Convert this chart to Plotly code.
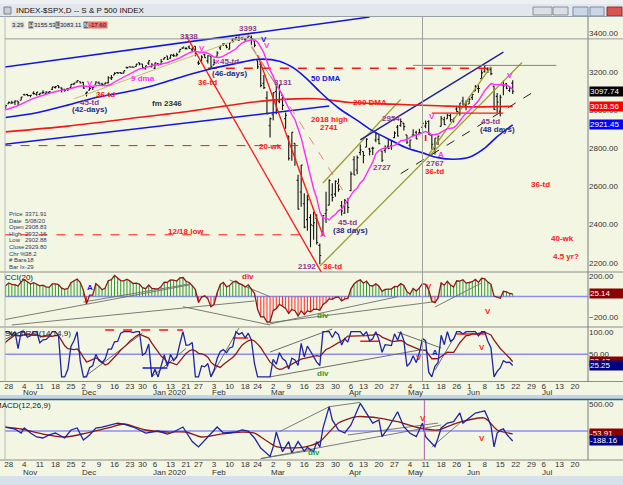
import numpy as np
import pandas as pd
import plotly.graph_objects as go

W, H = 623, 485
BG = "#F3F6E2"
FONT = "Liberation Sans, Arial, sans-serif"
RED = "#FF1414"
PURPLE = "#8E3A8E"
NAVY = "#2A2A8A"
MAGENTA = "#FF2BFF"
BLUE = "#1414E6"
GREEN = "#2E9A2E"
OLIVE = "#9C9A2E"
GRAY = "#6E6E6E"

# ---------------- trading calendar ----------------
HOLIDAYS = ["2019-11-28", "2019-12-25", "2020-01-01", "2020-01-20", "2020-02-17",
            "2020-04-10", "2020-05-25", "2020-07-03"]
_days = pd.bdate_range("2019-09-03", "2020-07-31")
_days = _days[~_days.isin(pd.to_datetime(HOLIDAYS))]
DAY_KEYS = [d.strftime("%Y-%m-%d") for d in _days]
POS = {k: i for i, k in enumerate(DAY_KEYS)}
ORIGIN = POS["2019-10-28"]


def X(d):
    return POS[d] - ORIGIN


# ---------------- S&P 500 daily OHLC (2019-09-03 .. 2020-06-19) ----------------
open_ = [
    2909.01, 2924.67, 2960.60, 2980.33, 2988.43, 2971.01, 2981.41, 3009.08, 3012.21, 2996.41, 2995.67, 3001.50, 3010.36, 3008.42, 2983.50, 3002.43, 2968.35, 2985.73, 2985.47, 2967.07,
    2983.69, 2924.78, 2885.38, 2918.56, 2944.23, 2920.40, 2911.10, 2918.55, 2963.07, 2965.81, 2973.61, 2989.68, 3000.77, 2996.84, 2996.48, 3010.73, 2994.01, 3014.78, 3003.32,
    3032.12, 3035.39, 3039.74, 3046.90,
    3050.72, 3078.96, 3080.80, 3075.10, 3087.02, 3081.25, 3080.33, 3089.28, 3084.18, 3090.75, 3107.92, 3117.91, 3127.45, 3114.66, 3108.49, 3111.41, 3117.44, 3134.85, 3145.49, 3147.18,
    3143.85, 3087.41, 3103.50, 3119.21, 3134.62, 3141.86, 3135.36, 3135.75, 3141.23, 3166.65, 3183.63, 3195.40, 3195.21, 3192.32, 3223.33, 3226.05, 3225.45, 3227.20, 3247.23, 3240.09, 3215.18,
    3244.67, 3226.36, 3217.55, 3241.86, 3238.59, 3266.03, 3281.81, 3271.13, 3285.35, 3282.27, 3302.97, 3323.66, 3321.03, 3330.02, 3315.77, 3333.10, 3247.16, 3255.35, 3289.46, 3256.45, 3282.33,
    3235.66, 3280.61, 3324.91, 3344.92, 3335.54, 3318.28, 3365.87, 3370.50, 3365.90, 3378.08, 3369.04, 3380.39, 3380.45, 3360.50, 3257.61, 3238.94, 3139.90, 3062.54, 2916.90,
    2974.28, 3096.46, 3045.75, 3075.70, 2954.20, 2863.89, 2813.48, 2825.60, 2630.86, 2569.99, 2508.59, 2425.66, 2436.50, 2393.48, 2431.94, 2290.71, 2344.44, 2457.77, 2501.29, 2555.87, 2558.98, 2614.69,
    2498.08, 2458.54, 2514.92, 2578.28, 2738.65, 2685.00, 2776.99, 2782.46, 2805.10, 2795.64, 2799.34, 2842.43, 2845.62, 2784.81, 2787.89, 2810.42, 2812.64, 2854.65, 2909.96, 2918.46, 2930.91,
    2869.09, 2815.01, 2868.88, 2883.14, 2878.26, 2908.83, 2915.46, 2939.50, 2865.86, 2794.54, 2829.95, 2913.86, 2948.59, 2953.63, 2969.95, 2948.05, 3004.08, 3015.65, 3046.61, 3025.17,
    3031.15, 3064.78, 3098.90, 3111.56, 3163.84, 3199.92, 3213.32, 3213.42, 3123.53, 3071.04, 2993.76, 3131.00, 3136.13, 3101.64, 3140.29,
]
high = [
    2914.39, 2938.84, 2985.86, 2985.03, 2989.43, 2979.39, 3000.93, 3020.74, 3017.33, 3002.19, 3006.21, 3007.83, 3021.99, 3016.37, 2999.15, 3007.98, 2989.82, 2987.28, 2987.31, 2983.85,
    2992.53, 2924.78, 2911.13, 2953.74, 2959.75, 2925.47, 2929.32, 2948.46, 2993.28, 2972.84, 3003.28, 2997.54, 3008.29, 3000.00, 3007.33, 3014.57, 3004.78, 3016.07, 3027.39,
    3044.08, 3047.87, 3050.10, 3046.90,
    3066.95, 3085.20, 3083.95, 3078.34, 3097.77, 3093.09, 3088.33, 3102.61, 3098.06, 3098.20, 3120.46, 3124.17, 3127.64, 3118.97, 3110.11, 3112.87, 3133.83, 3142.69, 3154.26, 3150.30,
    3144.31, 3094.97, 3119.38, 3119.45, 3150.60, 3148.87, 3142.12, 3143.98, 3176.28, 3182.68, 3197.71, 3198.22, 3198.48, 3205.48, 3225.65, 3227.78, 3226.43, 3240.08, 3247.93, 3240.92, 3231.72,
    3258.14, 3246.15, 3246.84, 3244.91, 3267.07, 3275.58, 3282.99, 3288.13, 3294.25, 3298.66, 3317.11, 3329.88, 3329.79, 3337.77, 3326.88, 3333.18, 3258.85, 3285.78, 3293.47, 3285.91, 3282.33,
    3268.44, 3306.92, 3337.58, 3347.96, 3341.42, 3352.26, 3375.63, 3381.47, 3385.09, 3380.69, 3375.01, 3393.52, 3389.15, 3360.76, 3259.81, 3246.99, 3182.51, 3097.07, 2959.72,
    3090.96, 3136.72, 3130.97, 3083.04, 2985.93, 2863.89, 2882.59, 2825.60, 2660.95, 2711.33, 2562.98, 2553.93, 2453.57, 2466.97, 2453.01, 2300.73, 2449.71, 2571.42, 2637.01, 2615.91, 2631.80, 2641.39,
    2522.75, 2533.22, 2538.18, 2676.85, 2756.89, 2760.75, 2818.57, 2782.46, 2851.85, 2801.88, 2806.51, 2879.22, 2868.98, 2785.54, 2815.10, 2844.90, 2842.71, 2887.72, 2921.15, 2954.86, 2930.91,
    2869.09, 2844.24, 2898.23, 2891.11, 2901.92, 2932.16, 2944.25, 2945.82, 2874.14, 2852.80, 2865.01, 2968.09, 2964.21, 2980.29, 2978.50, 2956.76, 3021.72, 3036.25, 3068.67, 3049.17,
    3062.18, 3081.07, 3130.94, 3128.91, 3211.72, 3233.13, 3222.71, 3223.27, 3123.53, 3088.42, 3079.76, 3153.45, 3141.16, 3120.00, 3155.53,
]
low = [
    2891.85, 2921.86, 2960.60, 2972.51, 2969.39, 2957.01, 2975.31, 3000.92, 3002.90, 2990.67, 2993.73, 2978.57, 3003.16, 2984.68, 2982.23, 2957.73, 2952.86, 2963.71, 2945.53, 2967.07,
    2938.70, 2874.93, 2855.94, 2918.56, 2935.68, 2892.66, 2907.41, 2917.12, 2963.07, 2962.94, 2973.61, 2985.20, 2991.79, 2976.31, 2995.35, 2995.04, 2991.21, 2999.10, 3001.94,
    3032.12, 3034.81, 3025.96, 3023.19,
    3050.72, 3074.87, 3072.15, 3065.89, 3080.23, 3073.58, 3075.82, 3084.73, 3078.80, 3083.26, 3104.60, 3112.06, 3113.47, 3091.41, 3094.55, 3099.26, 3117.44, 3131.00, 3143.41, 3139.34,
    3110.78, 3070.33, 3102.53, 3103.76, 3134.62, 3135.46, 3126.09, 3133.21, 3138.47, 3156.51, 3183.63, 3191.03, 3191.14, 3192.32, 3216.03, 3222.30, 3220.51, 3227.20, 3234.37, 3216.57, 3212.03,
    3235.53, 3222.34, 3214.64, 3232.43, 3236.67, 3263.67, 3260.86, 3268.43, 3277.19, 3280.69, 3302.82, 3318.86, 3316.61, 3320.04, 3301.87, 3281.53, 3234.50, 3253.22, 3271.89, 3242.80, 3214.68,
    3235.66, 3280.61, 3313.75, 3334.39, 3322.12, 3317.77, 3352.72, 3369.72, 3360.52, 3366.15, 3355.61, 3378.83, 3341.02, 3328.45, 3214.65, 3118.77, 3108.99, 2977.39, 2855.84,
    2945.19, 2976.63, 3034.38, 2999.83, 2901.54, 2734.43, 2734.00, 2707.22, 2478.86, 2492.37, 2380.94, 2367.04, 2280.52, 2319.78, 2295.56, 2191.86, 2344.44, 2407.53, 2500.72, 2520.02, 2545.28, 2571.15,
    2447.49, 2455.79, 2459.96, 2574.57, 2657.67, 2663.30, 2762.36, 2721.17, 2805.10, 2761.54, 2764.32, 2830.88, 2820.43, 2727.10, 2775.95, 2794.26, 2791.76, 2852.89, 2860.71, 2912.16, 2892.47,
    2821.61, 2797.85, 2863.55, 2847.65, 2876.48, 2902.88, 2903.44, 2869.59, 2793.15, 2766.64, 2816.78, 2913.86, 2922.35, 2953.63, 2938.57, 2933.59, 2988.17, 2969.75, 3023.40, 2998.61,
    3031.15, 3051.64, 3098.90, 3090.41, 3163.84, 3196.00, 3193.11, 3181.49, 2999.49, 2984.47, 2965.66, 3076.06, 3108.03, 3093.51, 3083.11,
]
close = [
    2906.27, 2937.78, 2976.00, 2978.71, 2978.43, 2979.39, 3000.93, 3009.57, 3007.39, 2997.96, 3005.70, 3006.73, 3006.79, 2992.07, 2991.78, 2966.60, 2984.87, 2977.62, 2961.79, 2976.74,
    2940.25, 2887.61, 2910.63, 2952.01, 2938.79, 2893.06, 2919.40, 2938.13, 2970.27, 2966.15, 2995.68, 2989.69, 2997.95, 2986.20, 3006.72, 2995.99, 3004.52, 3010.29, 3022.55,
    3039.42, 3036.89, 3046.77, 3037.56,
    3066.91, 3078.27, 3074.62, 3076.78, 3085.18, 3093.08, 3087.01, 3091.84, 3094.04, 3096.63, 3120.46, 3122.03, 3120.18, 3108.46, 3103.54, 3110.29, 3133.64, 3140.52, 3153.63, 3140.98,
    3113.87, 3093.20, 3112.76, 3117.43, 3145.91, 3135.96, 3132.52, 3141.63, 3168.57, 3168.80, 3191.45, 3192.52, 3191.14, 3205.37, 3221.22, 3224.01, 3223.38, 3239.91, 3240.02, 3221.29, 3230.78,
    3257.85, 3234.85, 3246.28, 3237.18, 3253.05, 3274.70, 3265.35, 3288.13, 3283.15, 3289.29, 3316.81, 3329.62, 3320.79, 3321.75, 3325.54, 3295.47, 3243.63, 3276.24, 3273.40, 3283.66, 3225.52,
    3248.92, 3297.59, 3334.69, 3345.78, 3327.71, 3352.09, 3357.75, 3379.45, 3373.94, 3380.16, 3370.29, 3386.15, 3373.23, 3337.75, 3225.89, 3128.21, 3116.39, 2978.76, 2954.22,
    3090.23, 3003.37, 3130.12, 3023.94, 2972.37, 2746.56, 2882.23, 2741.38, 2480.64, 2711.02, 2386.13, 2529.19, 2398.10, 2409.39, 2304.92, 2237.40, 2447.33, 2475.56, 2630.07, 2541.47, 2626.65, 2584.59,
    2470.50, 2526.90, 2488.65, 2663.68, 2659.41, 2749.98, 2789.82, 2761.63, 2846.06, 2783.36, 2799.55, 2874.56, 2823.16, 2736.56, 2799.31, 2797.80, 2836.74, 2878.48, 2863.39, 2939.51, 2912.43,
    2830.71, 2842.74, 2868.44, 2848.42, 2881.19, 2929.80, 2930.32, 2870.12, 2820.00, 2852.50, 2863.70, 2953.91, 2922.94, 2971.61, 2948.51, 2955.45, 2991.77, 3036.13, 3029.73, 3044.31,
    3055.73, 3080.82, 3122.87, 3112.35, 3193.93, 3232.39, 3207.18, 3190.14, 3002.10, 3041.31, 3066.59, 3124.74, 3113.49, 3115.34, 3097.74,
]

# moving averages
dma50_dates = ["2019-10-25", "2019-11-08", "2019-11-22", "2019-12-06", "2019-12-20", "2020-01-03", "2020-01-17",
               "2020-01-31", "2020-02-14", "2020-02-24", "2020-03-04", "2020-03-11", "2020-03-17", "2020-03-23",
               "2020-03-31", "2020-04-08", "2020-04-16", "2020-04-24", "2020-05-01", "2020-05-08", "2020-05-15",
               "2020-05-22", "2020-06-01", "2020-06-08", "2020-06-12", "2020-06-19"]
dma50_vals = [2960, 2985, 3025, 3065, 3095, 3125, 3175, 3215, 3250, 3265, 3255, 3215, 3160, 3095,
              3010, 2945, 2890, 2840, 2800, 2775, 2750, 2742, 2752, 2800, 2860, 2921.45]
dma200_dates = ["2019-10-25", "2019-11-22", "2019-12-23", "2020-01-21", "2020-02-20", "2020-03-05", "2020-03-20",
                "2020-04-03", "2020-04-24", "2020-05-15", "2020-06-01", "2020-06-19"]
dma200_vals = [2885, 2915, 2955, 2990, 3040, 3055, 3058, 3040, 3030, 3022, 3016, 3018.56]

# MACD panel
macd_dates = ["2019-10-24", "2019-10-25", "2019-10-30", "2019-11-01", "2019-11-04", "2019-11-06", "2019-11-08",
              "2019-11-12", "2019-11-14", "2019-11-18", "2019-11-21", "2019-11-25", "2019-11-27", "2019-12-02",
              "2019-12-04", "2019-12-06", "2019-12-10", "2019-12-17", "2019-12-19", "2019-12-24", "2019-12-27",
              "2019-12-31", "2020-01-07", "2020-01-10", "2020-01-14", "2020-01-17", "2020-01-21", "2020-01-23",
              "2020-01-27", "2020-01-30", "2020-02-04", "2020-02-06", "2020-02-12", "2020-02-14", "2020-02-19",
              "2020-02-21", "2020-02-25", "2020-02-28", "2020-03-02", "2020-03-03", "2020-03-05", "2020-03-09",
              "2020-03-10", "2020-03-12", "2020-03-16", "2020-03-17", "2020-03-19", "2020-03-20", "2020-03-23",
              "2020-03-24", "2020-03-26", "2020-03-27", "2020-03-31", "2020-04-02", "2020-04-06", "2020-04-09",
              "2020-04-14", "2020-04-16", "2020-04-20", "2020-04-21", "2020-04-23", "2020-04-28", "2020-04-30",
              "2020-05-04", "2020-05-06", "2020-05-08", "2020-05-11", "2020-05-14", "2020-05-15", "2020-05-18",
              "2020-05-20", "2020-05-22", "2020-05-27", "2020-05-28", "2020-06-01", "2020-06-03", "2020-06-05",
              "2020-06-08", "2020-06-09", "2020-06-10", "2020-06-11", "2020-06-12", "2020-06-15", "2020-06-16",
              "2020-06-17", "2020-06-18", "2020-06-19"]
macd_vals = [150, 75, 38, -38, 57, -38, -113, -132, -75, -38, -132, 19, 57, -170, -75, 57, 75, 150, 132, 75, 19,
             -38, 0, -57, -19, 75, -19, -200, -300, -113, 75, -38, -19, 19, 0, -132, -320, -480, -300, -20, -390,
             -200, -410, -200, -380, -310, -390, -200, -300, 50, 460, 210, 19, -38, 113, 520, 340, 150, 210, -107,
             57, 364, 81, -44, -107, 150, -107, -296, -132, 57, 150, 175, 340, 150, 245, 340, 364, 380, 250, 100,
             -300, -40, 20, 40, -60, -120, -188.16]
sig_dates = ["2019-10-24", "2019-11-01", "2019-11-12", "2019-11-21", "2019-12-03", "2019-12-13", "2019-12-19",
             "2019-12-31", "2020-01-10", "2020-01-21", "2020-01-28", "2020-02-05", "2020-02-14", "2020-02-21",
             "2020-02-26", "2020-03-03", "2020-03-10", "2020-03-17", "2020-03-23", "2020-03-31", "2020-04-08",
             "2020-04-20", "2020-04-28", "2020-05-07", "2020-05-15", "2020-05-26", "2020-06-08", "2020-06-12",
             "2020-06-19"]
sig_vals = [75, 38, -57, -113, -38, 75, 132, 19, -19, -19, -113, -60, -20, -40, -150, -296, -320, -290, -200,
            150, 270, 245, 175, 57, 19, 150, 245, 19, -53.91]

# axis ticks
week_ticks = ["2019-10-28", "2019-11-04", "2019-11-11", "2019-11-18", "2019-11-25", "2019-12-02", "2019-12-09",
              "2019-12-16", "2019-12-23", "2019-12-30", "2020-01-06", "2020-01-13", "2020-01-21", "2020-01-27",
              "2020-02-03", "2020-02-10", "2020-02-18", "2020-02-24", "2020-03-02", "2020-03-09", "2020-03-16",
              "2020-03-23", "2020-03-30", "2020-04-06", "2020-04-13", "2020-04-20", "2020-04-27", "2020-05-04",
              "2020-05-11", "2020-05-18", "2020-05-26", "2020-06-01", "2020-06-08", "2020-06-15", "2020-06-22",
              "2020-06-29", "2020-07-06", "2020-07-13", "2020-07-20"]
week_labels = ["28", "4", "11", "18", "25", "2", "9", "16", "23", "30", "6", "13", "21", "27", "3", "10", "18",
               "24", "2", "9", "16", "23", "30", "6", "13", "20", "27", "4", "11", "18", "26", "1", "8", "15",
               "22", "29", "6", "13", "20"]
month_dates = ["2019-11-04", "2019-12-02", "2020-01-06", "2020-02-03", "2020-03-02", "2020-04-06", "2020-05-04",
               "2020-06-01", "2020-07-06"]
month_names = ["Nov", "Dec", "Jan 2020", "Feb", "Mar", "Apr", "May", "Jun", "Jul"]

# analyst drawings on the price panel: (date1, price1, date2, price2, colour, width, dash)
price_lines = [
    ("2019-10-24", 3223, "2020-04-15", 3486, BLUE, 1.5, "solid"),
    ("2019-10-24", 2819, "2020-03-26", 3020, BLUE, 1.5, "solid"),
    ("2019-11-26", 3058, "2020-02-20", 3394, "#C8BC78", 1.0, "solid"),
    ("2020-01-21", 3390, "2020-03-24", 2136, RED, 1.3, "solid"),
    ("2020-02-24", 3287, "2020-03-24", 2342, RED, 1.3, "solid"),
    ("2020-02-20", 3337, "2020-04-03", 2537, "#F08080", 1.0, "dash"),
    ("2020-02-20", 3329, "2020-03-05", 3078, "#808080", 0.8, "solid"),
    ("2020-03-23", 2182, "2020-06-24", 3248, OLIVE, 1.3, "solid"),
    ("2020-03-24", 2617, "2020-04-29", 3055, OLIVE, 1.3, "solid"),
    ("2020-05-12", 2766, "2020-06-10", 3226, OLIVE, 1.3, "solid"),
    ("2020-04-09", 2843, "2020-06-16", 3302, "#20208E", 1.4, "solid"),
    ("2020-04-29", 2666, "2020-06-29", 3087, "#222222", 1.0, "dash"),
    ("2020-05-05", 3233, "2020-07-10", 3233, "#777777", 0.9, "solid"),
    ("2020-01-30", 3218, "2020-06-10", 3218, RED, 1.3, "dash"),
    ("2019-10-24", 2813, "2020-03-12", 2813, RED, 1.0, "dash"),
    ("2019-10-24", 2346, "2020-03-13", 2346, RED, 1.0, "dash"),
    ("2020-05-13", 2983, "2020-06-16", 2983, RED, 1.2, "solid"),
    ("2020-05-11", 2869, "2020-05-11", 2837, RED, 1.6, "solid"),
]

# text labels on the price panel: (date, price, text, colour)
price_labels = [
    ("2020-01-22", 3382, "3338", PURPLE), ("2020-02-19", 3424, "3393", PURPLE),
    ("2020-02-26", 3371, "V", BLUE), ("2020-02-27", 3335, "V", MAGENTA),
    ("2020-01-28", 3319, "V", MAGENTA), ("2019-12-04", 3136, "V", MAGENTA),
    ("2020-02-04", 3251, "x", MAGENTA), ("2020-02-10", 3251, "45-td", PURPLE),
    ("2020-02-10", 3193, "(46-days)", NAVY), ("2020-01-30", 3146, "36-td", RED),
    ("2019-12-11", 3083, "36-td", RED), ("2019-12-04", 3041, "45-td", PURPLE),
    ("2019-12-04", 3000, "(42-days)", NAVY), ("2019-12-30", 3167, "9 dma", MAGENTA),
    ("2020-01-10", 3031, "fm 2346", "#333333"), ("2020-03-05", 3141, "3131", PURPLE),
    ("2020-03-25", 3167, "50 DMA", BLUE), ("2020-04-15", 3041, "200 DMA", RED),
    ("2020-03-26", 2952, "2018 high", RED), ("2020-03-26", 2910, "2741", RED),
    ("2020-04-24", 2957, "2954", PURPLE), ("2020-05-13", 2963, "V", MAGENTA),
    ("2020-06-18", 3178, "V", MAGENTA), ("2020-02-28", 2806, "20-wk", RED),
    ("2020-01-21", 2361, "12/18 low", RED), ("2020-03-17", 2178, "2192", PURPLE),
    ("2020-03-27", 2178, "36-td", RED), ("2020-04-03", 2408, "45-td", PURPLE),
    ("2020-04-06", 2366, "(38 days)", NAVY), ("2020-03-24", 2350, "A", MAGENTA),
    ("2020-04-21", 2696, "2727", PURPLE), ("2020-05-14", 2717, "2767", PURPLE),
    ("2020-05-14", 2675, "36-td", RED), ("2020-05-18", 2769, "A", MAGENTA),
    ("2020-06-10", 2937, "45-td", PURPLE), ("2020-06-12", 2895, "(48 days)", NAVY),
    ("2020-07-02", 2607, "36-td", RED), ("2020-07-14", 2329, "40-wk", RED),
    ("2020-07-15", 2235, "4.5 yr?", RED),
]

cci_lines = [
    ("2019-10-24", -226, "2020-01-22", 111), ("2019-10-29", -274, "2020-02-21", -43),
    ("2019-12-02", -53, "2020-01-22", 120), ("2020-01-17", -98, "2020-02-28", -274),
    ("2020-02-10", 159, "2020-02-28", -2), ("2020-02-27", -255, "2020-05-14", -50),
    ("2020-02-28", -264, "2020-04-28", -2), ("2020-05-14", -101, "2020-06-05", 130),
]
cci_labels = [("2019-12-04", 91, "A", BLUE), ("2020-02-19", 197, "div", RED), ("2020-05-12", 101, "V", RED),
              ("2020-03-24", -178, "div", GREEN), ("2020-06-09", -149, "V", RED)]

stoch_lines = [
    ("2019-10-23", 77, "2019-11-04", 104, GRAY, "solid"), ("2019-12-02", -2, "2019-12-30", 97, GRAY, "solid"),
    ("2020-01-03", 0, "2020-01-21", 63, GRAY, "solid"), ("2020-01-31", 0, "2020-02-13", 108, GRAY, "solid"),
    ("2020-02-28", 55, "2020-03-27", 106, GRAY, "solid"), ("2020-02-28", 0, "2020-05-07", 59.5, GRAY, "solid"),
    ("2020-04-28", 99, "2020-05-18", 64, GRAY, "solid"), ("2020-05-14", 15, "2020-05-26", 97, GRAY, "solid"),
    ("2019-12-11", 103.8, "2020-01-17", 103.8, RED, "dash"), ("2020-02-11", 86, "2020-02-19", 86, RED, "solid"),
    ("2020-04-09", 79, "2020-04-20", 79, RED, "solid"), ("2020-05-26", 95, "2020-06-08", 95, RED, "solid"),
    ("2019-12-30", 19.7, "2020-01-10", 19.7, BLUE, "solid"),
]
stoch_labels = [("2020-05-07", 44, "V", RED), ("2020-05-14", 55, "A", BLUE), ("2020-06-05", 64, "V", RED),
                ("2020-03-24", 8.6, "div", GREEN)]

macd_lines = [
    ("2020-02-25", -520, "2020-03-19", -358), ("2020-03-04", -13, "2020-03-26", 458),
    ("2020-03-26", 458, "2020-04-09", 541), ("2020-02-25", -520, "2020-05-18", 113),
    ("2020-04-03", -75, "2020-05-15", 150), ("2020-05-13", -302, "2020-05-27", 151),
]
macd_labels = [("2020-05-08", 245, "V", RED), ("2020-06-05", -132, "V", RED), ("2020-03-19", -396, "div", GREEN)]

cursor_date = "2020-05-08"
cursor_price = 3371.91
data_window = [("Price", "3371.91"), ("Date", "5/08/20"), ("Open", "2908.83"), ("High", "2932.16"),
               ("Low", "2902.88"), ("Close", "2929.80"), ("Chr %", "38.2"), ("# Bars", "-18"), ("Bar Ix", "-29")]
quote_fields = [("3.29", "#D9DDE3", "#222"), ("H", "#6B6F75", "#fff"), ("3155.53", "#E4E7EB", "#222"),
                ("L", "#6B6F75", "#fff"), ("3083.11", "#E4E7EB", "#222"), ("N", "#6B6F75", "#fff"),
                ("-17.60", "#F07070", "#222")]
quote_x = [11, 28, 33, 55, 59, 83, 88]

# ---------------- indicators computed from the prices ----------------
c = pd.Series(close, dtype=float)
h = pd.Series(high, dtype=float)
l = pd.Series(low, dtype=float)
xb = np.arange(len(close)) - ORIGIN

sma9 = c.rolling(9).mean()
tp = (h + l + c) / 3
tp_sma = tp.rolling(20).mean()
tp_md = tp.rolling(20).apply(lambda a: np.mean(np.abs(a - a.mean())), raw=True)
cci = (tp - tp_sma) / (0.015 * tp_md)

dlt = c.diff()
ag = dlt.clip(lower=0).ewm(alpha=1 / 14, adjust=False).mean()
al = (-dlt).clip(lower=0).ewm(alpha=1 / 14, adjust=False).mean()
rsi = 100 - 100 / (1 + ag / al)
srsi = (rsi - rsi.rolling(14).min()) / (rsi.rolling(14).max() - rsi.rolling(14).min()) * 100
srsi_sig = srsi.rolling(9).mean()

# ---------------- figure ----------------
fig = go.Figure()


def seg(x0, y0, x1, y1, color, width, dash, ya, xa="x"):
    fig.add_trace(go.Scatter(x=[x0, x1], y=[y0, y1], mode="lines", xaxis=xa, yaxis=ya,
                             line=dict(color=color, width=width, dash=dash), hoverinfo="skip"))


for d1, p1, d2, p2, col, wd, ds in price_lines:
    seg(X(d1), p1, X(d2), p2, col, wd, ds, "y")

fig.add_trace(go.Scatter(x=[X(d) for d in dma200_dates], y=dma200_vals, mode="lines", yaxis="y",
                         line=dict(color="#F01818", width=1.6, shape="spline", smoothing=0.8)))
fig.add_trace(go.Scatter(x=[X(d) for d in dma50_dates], y=dma50_vals, mode="lines", yaxis="y",
                         line=dict(color=BLUE, width=1.6, shape="spline", smoothing=0.8)))
fig.add_trace(go.Ohlc(x=xb, open=open_, high=high, low=low, close=close, xaxis="x", yaxis="y",
                      increasing=dict(line=dict(color="#111111", width=1.1)),
                      decreasing=dict(line=dict(color="#111111", width=1.1)),
                      tickwidth=0.45, hoverinfo="skip"))
fig.add_trace(go.Scatter(x=xb[8:], y=sma9[8:], mode="lines", yaxis="y",
                         line=dict(color=MAGENTA, width=1.4)))

# CCI
fig.add_trace(go.Bar(x=xb, y=cci, yaxis="y2", width=0.32,
                     marker=dict(color=np.where(cci >= 0, "#2F9A2F", "#FF2A2A"), line=dict(width=0))))
for d1, v1, d2, v2 in cci_lines:
    seg(X(d1), v1, X(d2), v2, GRAY, 0.9, "solid", "y2")
fig.add_trace(go.Scatter(x=xb, y=cci, mode="lines", yaxis="y2", line=dict(color="#8B1A1A", width=1.3)))

# StochRSI
for d1, v1, d2, v2, col, ds in stoch_lines:
    seg(X(d1), v1, X(d2), v2, col, 1.0 if col == GRAY else 1.4, ds, "y3")
fig.add_trace(go.Scatter(x=xb, y=srsi_sig, mode="lines", yaxis="y3", line=dict(color="#8B1A1A", width=1.3)))
fig.add_trace(go.Scatter(x=xb, y=srsi, mode="lines", yaxis="y3", line=dict(color="#1F24A0", width=1.3)))

# MACD
for d1, v1, d2, v2 in macd_lines:
    seg(X(d1), v1, X(d2), v2, GRAY, 0.9, "solid", "y4", "x2")
fig.add_trace(go.Scatter(x=[X(d) for d in sig_dates], y=sig_vals, mode="lines", xaxis="x2", yaxis="y4",
                         line=dict(color="#8B1A1A", width=1.3, shape="spline", smoothing=0.7)))
fig.add_trace(go.Scatter(x=[X(d) for d in macd_dates], y=macd_vals, mode="lines", xaxis="x2", yaxis="y4",
                         line=dict(color="#1F24A0", width=1.3)))


def dom(top, bot):
    return [1 - bot / H, 1 - top / H]


def px(v):
    return v / W


def py(v):
    return 1 - v / H


XDOM = [px(5), px(588)]
XR = [-1.2, 186.2]
tickv = [X(d) for d in week_ticks]
xcommon = dict(domain=XDOM, range=XR, showgrid=False, zeroline=False, showline=False, ticks="", ticklen=0,
               ticklabelstandoff=-2, tickvals=tickv, ticktext=week_labels,
               tickfont=dict(size=8, color="#333"), fixedrange=True)
ycommon = dict(side="right", showgrid=False, zeroline=False, showline=False, ticks="", ticklen=0,
               tickformat=".2f", tickfont=dict(size=8, color="#333"), fixedrange=True)

fig.update_layout(
    width=W, height=H, margin=dict(l=0, r=0, t=0, b=0, autoexpand=False),
    paper_bgcolor=BG, plot_bgcolor=BG, showlegend=False, hovermode=False,
    font=dict(family=FONT, size=8, color="#222"),
    xaxis=dict(xcommon, anchor="y3", rangeslider=dict(visible=False)),
    xaxis2=dict(xcommon, anchor="y4", matches="x"),
    yaxis=dict(ycommon, domain=dom(16.5, 272), range=[2151.3, 3489], anchor="x",
               tickvals=[2200, 2400, 2600, 2800, 3000, 3200, 3400]),
    yaxis2=dict(ycommon, domain=dom(272, 327), range=[-293.3, 235.6], anchor="x", tickvals=[200, -200]),
    yaxis3=dict(ycommon, domain=dom(327, 381.5), range=[-10.2, 110.4], anchor="x", tickvals=[100, 50]),
    yaxis4=dict(ycommon, domain=dom(400, 460), range=[-547, 585], anchor="x2", tickvals=[500, 0]),
)

shapes = []


def pline(x0, y0, x1, y1, color, width=1):
    shapes.append(dict(type="line", xref="paper", yref="paper", x0=px(x0), y0=py(y0), x1=px(x1), y1=py(y1),
                       line=dict(color=color, width=width), layer="above"))


def prect(x0, y0, x1, y1, fill, line=None):
    shapes.append(dict(type="rect", xref="paper", yref="paper", x0=px(x0), y0=py(y0), x1=px(x1), y1=py(y1),
                       fillcolor=fill, line=dict(color=line or fill, width=1 if line else 0), layer="below"))


# window chrome
prect(0, 0, W, 4, "#EEF0F2")
prect(0, 4, W, 16, "#E2E7EE")
prect(4, 7, 11, 14, "#C9CED6", "#7A8090")
prect(533, 7, 552, 15, "#DADFE6", "#8A9099")
prect(553, 7, 568, 15, "#DADFE6", "#8A9099")
prect(573, 7, 588, 16, "#C9D6E8", "#7F8CA0")
prect(590, 7, 604, 16, "#C9D6E8", "#7F8CA0")
prect(607, 7, 622, 16, "#D9534F", "#9E2B2B")
prect(0, 382, W, 395, BG)
prect(0, 395, W, 399, "#C3D4EA")
prect(0, 476, W, H, "#D7E1EC")
pline(0, 16.5, W, 16.5, "#9AA0A8")
for yy in (272, 327, 381.5, 460):
    pline(0, yy, W, yy, "#8C8C8C")
pline(0, 399.5, W, 399.5, "#2F6A6A", 1.5)
pline(588, 16.5, 588, 381.5, "#7C7C7C")
pline(588, 400, 588, 460, "#7C7C7C")
pline(5, 16.5, 5, 381.5, "#B8BCC0")
pline(5, 400, 5, 460, "#B8BCC0")

# zero / mid reference lines
for ref, val in (("y2", 0), ("y3", 50), ("y4", 0)):
    shapes.append(dict(type="line", xref="x domain", yref=ref, x0=0, x1=1, y0=val, y1=val,
                       line=dict(color="#8C8CF2", width=1.6), layer="below"))
# cursor
shapes.append(dict(type="line", xref="x domain", yref="y", x0=0, x1=1.06, y0=cursor_price, y1=cursor_price,
                   line=dict(color="#9A9A9A", width=1)))
shapes.append(dict(type="line", xref="x", yref="paper", x0=X(cursor_date), x1=X(cursor_date),
                   y0=py(381.5), y1=py(16.5), line=dict(color="#A0A0A0", width=1)))
shapes.append(dict(type="line", xref="x2", yref="paper", x0=X(cursor_date) + 0.6, x1=X(cursor_date) + 0.6,
                   y0=py(460), y1=py(400), line=dict(color="#B060B8", width=1)))
fig.update_layout(shapes=shapes)

ann = []


def txt(x, y, s, color, size=8, xref="x", yref="y", xanchor="center", bold=True, bg=None, yanchor="middle"):
    a = dict(x=x, y=y, xref=xref, yref=yref, text=("<b>%s</b>" % s) if bold else s, showarrow=False,
             font=dict(color=color, size=size, family=FONT), xanchor=xanchor, yanchor=yanchor)
    if bg:
        a.update(bgcolor=bg, borderpad=0)
    ann.append(a)


for d, v, s, col in price_labels:
    txt(X(d), v, s, col)
for d, v, s, col in cci_labels:
    txt(X(d), v, s, col, yref="y2")
for d, v, s, col in stoch_labels:
    txt(X(d), v, s, col, yref="y3")
for d, v, s, col in macd_labels:
    txt(X(d), v, s, col, xref="x2", yref="y4")

for d, m in zip(month_dates, month_names):
    txt(X(d) - 1.2, py(392), m, "#333", xref="x", yref="paper", xanchor="left", bold=False)
    txt(X(d) - 1.2, py(472), m, "#333", xref="x2", yref="paper", xanchor="left", bold=False)

# panel titles
txt(px(3), py(277), "CCI(20)", "#222", xref="paper", yref="paper", xanchor="left", bold=False)
txt(px(3), py(333), "StochRSI(14,14,9)", "#222", xref="paper", yref="paper", xanchor="left", bold=False)
txt(px(-7), py(405), "MACD(12,26,9)", "#222", xref="paper", yref="paper", xanchor="left", bold=False)

# title bar and quote strip
txt(px(14), py(10.5), "INDEX-$SPX,D -- S & P 500 INDEX", "#111", xref="paper", yref="paper",
    xanchor="left", bold=False)
for (s, bgc, fc), x0 in zip(quote_fields, quote_x):
    txt(px(x0), py(24.5), s, fc, size=6, xref="paper", yref="paper", xanchor="left", bold=False, bg=bgc)

# data window
for i, (k, v) in enumerate(data_window):
    yy = 214 + i * 6.6
    txt(px(7), py(yy), k, "#2B3B63", size=6, xref="paper", yref="paper", xanchor="left", bold=False)
    txt(px(23), py(yy), v, "#2B3B63", size=6, xref="paper", yref="paper", xanchor="left", bold=False)

# value boxes on the right axis
boxes = [
    ("y", close[-1], "%.2f" % close[-1], "#000000"),
    ("y", dma200_vals[-1], "%.2f" % dma200_vals[-1], "#FF0000"),
    ("y", dma50_vals[-1], "%.2f" % dma50_vals[-1], "#0000FF"),
    ("y2", float(cci.iloc[-1]), "%.2f" % cci.iloc[-1], "#8B0000"),
    ("y3", float(srsi_sig.iloc[-1]), "%.2f" % srsi_sig.iloc[-1], "#8B0000"),
    ("y3", float(srsi.iloc[-1]), "%.2f" % srsi.iloc[-1], "#000080"),
    ("y4", sig_vals[-1], "%.2f" % sig_vals[-1], "#8B0000"),
    ("y4", macd_vals[-1], "%.2f" % macd_vals[-1], "#000080"),
]
for ref, val, s, bgc in boxes:
    ann.append(dict(x=px(589), y=val, xref="paper", yref=ref, text=s, showarrow=False, width=33, align="left",
                    font=dict(color="#FFFFFF", size=8, family=FONT), xanchor="left", yanchor="middle",
                    bgcolor=bgc, borderpad=0))

fig.update_layout(annotations=ann)
fig.write_html("out.html", config={"displayModeBar": False, "staticPlot": True},
               post_script="document.body.style.margin='0px';document.body.style.overflow='hidden';")
